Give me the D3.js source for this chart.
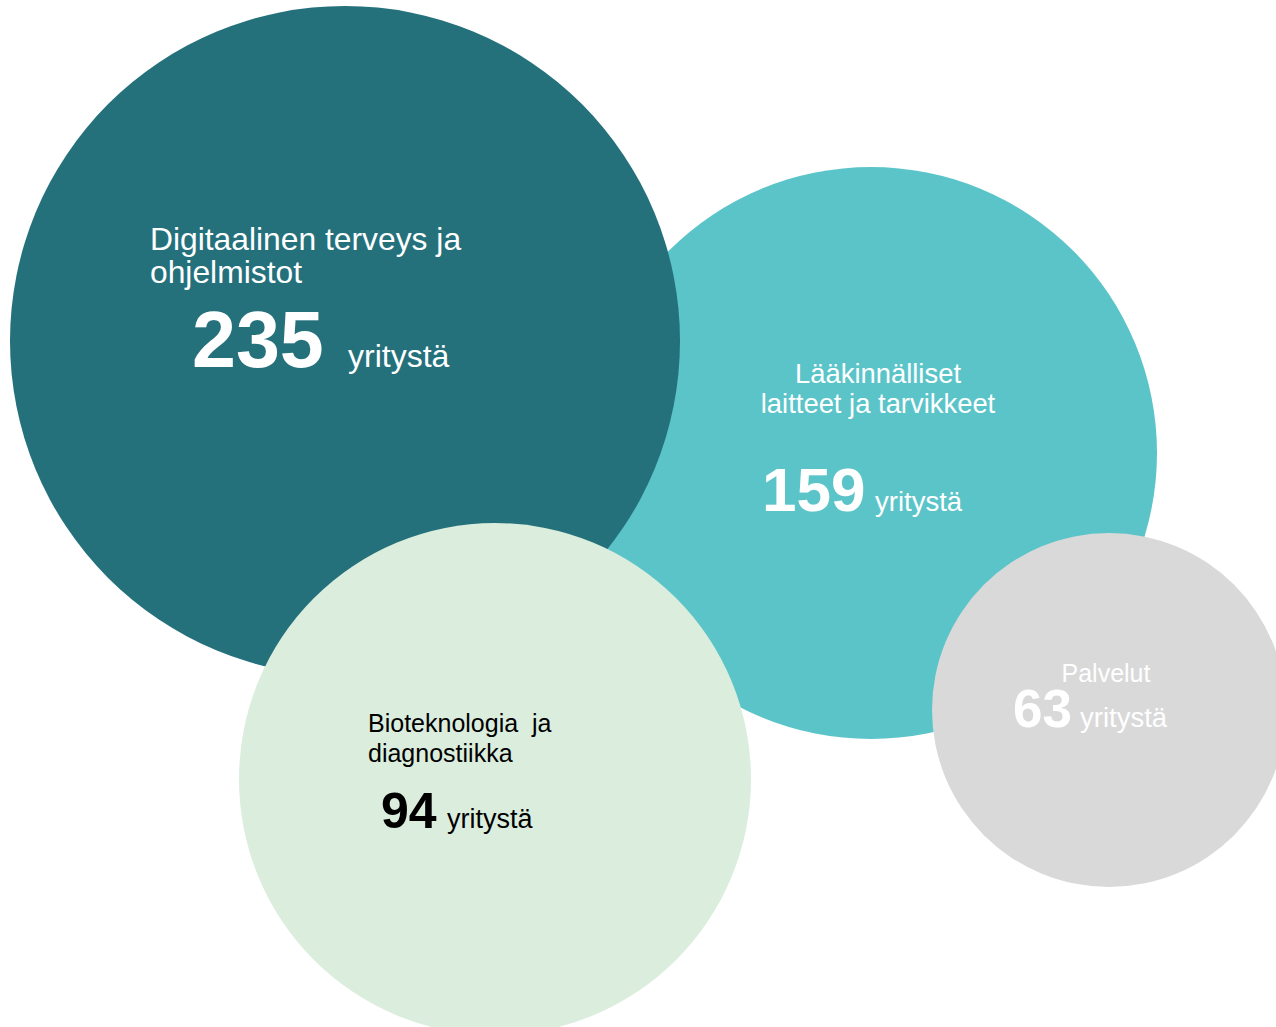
<!DOCTYPE html>
<html>
<head>
<meta charset="utf-8">
<script src="https://cdn.jsdelivr.net/npm/d3@7"></script>
<style>
  html, body { margin: 0; padding: 0; background: #fff; }
  svg { display: block; }
  text { font-family: "Liberation Sans", Arial, sans-serif; }
</style>
</head>
<body>
<svg id="chart" width="1276" height="1027"></svg>
<script>
// ---- data ----
const categories = [
  "Digitaalinen terveys ja ohjelmistot",
  "Lääkinnälliset laitteet ja tarvikkeet",
  "Bioteknologia ja diagnostiikka",
  "Palvelut"
];
const labelLines = [
  ["Digitaalinen terveys ja", "ohjelmistot"],
  ["Lääkinnälliset", "laitteet ja tarvikkeet"],
  ["Bioteknologia  ja", "diagnostiikka"],
  ["Palvelut"]
];
const counts = [235, 159, 94, 63];
const unitLabel = "yritystä";

// ---- layout / styles (not data) ----
const layout = [
  { cx: 345, cy: 341, fill: "#24717c", text: "#ffffff", order: 1,
    label: { x: -195, y: -91, anchor: "start", size: 31.8, lh: 33 },
    num: { x: -153, y: 26, size: 79 }, unit: { x: 3, y: 26, size: 32 } },
  { cx: 871, cy: 453, fill: "#5bc4c9", text: "#ffffff", order: 0,
    label: { x: 7, y: -70, anchor: "middle", size: 27.4, lh: 30 },
    num: { x: -109, y: 58, size: 62 }, unit: { x: 4, y: 58, size: 27.5 } },
  { cx: 495, cy: 779, fill: "#dbeddc", text: "#000000", order: 2,
    label: { x: -127, y: -47, anchor: "start", size: 25, lh: 30 },
    num: { x: -114, y: 49, size: 50 }, unit: { x: -48, y: 49, size: 27 } },
  { cx: 1109, cy: 710, fill: "#d9d9d9", text: "#ffffff", order: 3,
    label: { x: -3, y: -28, anchor: "middle", size: 25, lh: 30 },
    num: { x: -96, y: 17, size: 53 }, unit: { x: -29, y: 17, size: 27.5 } }
];

// radius scale (piecewise, matched to the reference bubbles)
const rScale = d3.scaleLinear()
  .domain([63, 94, 159, 235])
  .range([177, 256, 286, 335]);

const data = categories.map((c, i) => ({
  category: c, lines: labelLines[i], value: counts[i], ...layout[i]
})).sort((a, b) => a.order - b.order);

const svg = d3.select("#chart");

const g = svg.selectAll("g.bubble")
  .data(data)
  .join("g")
  .attr("class", "bubble")
  .attr("transform", d => `translate(${d.cx},${d.cy})`);

g.append("circle")
  .attr("r", d => rScale(d.value))
  .attr("fill", d => d.fill);

// category label
g.append("text")
  .attr("fill", d => d.text)
  .attr("font-size", d => d.label.size)
  .attr("text-anchor", d => d.label.anchor)
  .attr("xml:space", "preserve")
  .style("white-space", "pre")
  .selectAll("tspan")
  .data(d => d.lines.map((l, i) => ({ l, i, d })))
  .join("tspan")
  .attr("x", t => t.d.label.x)
  .attr("y", t => t.d.label.y + t.i * t.d.label.lh)
  .text(t => t.l);

// number
g.append("text")
  .attr("fill", d => d.text)
  .attr("font-weight", "bold")
  .attr("font-size", d => d.num.size)
  .attr("x", d => d.num.x)
  .attr("y", d => d.num.y)
  .text(d => d.value);

// unit
g.append("text")
  .attr("fill", d => d.text)
  .attr("font-size", d => d.unit.size)
  .attr("x", d => d.unit.x)
  .attr("y", d => d.unit.y)
  .text(unitLabel);
</script>
</body>
</html>
